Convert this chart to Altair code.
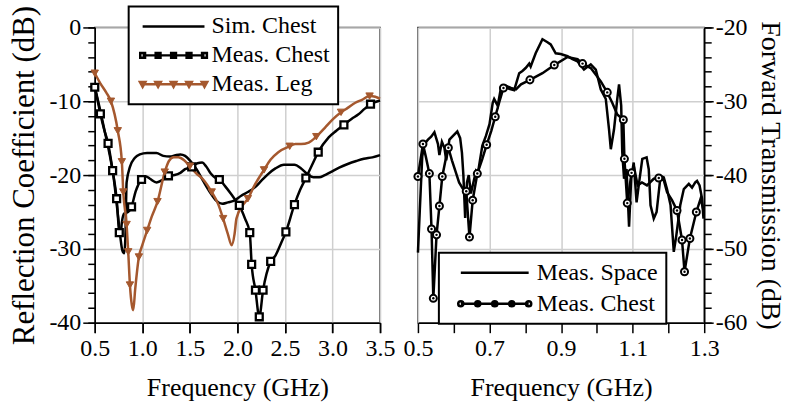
import altair as alt
import pandas as pd

FONT = "Liberation Serif"
BROWN = "#a5582e"

# ---------------- Left panel: reflection coefficient ----------------
sim_f = [0.50, 0.55, 0.60, 0.65, 0.70, 0.74, 0.77, 0.79, 0.81, 0.822, 0.835, 0.87, 0.92, 0.974,
         1.05, 1.149, 1.22, 1.29, 1.35, 1.40, 1.45, 1.50, 1.57, 1.64, 1.71, 1.78, 1.84, 1.90,
         1.96, 2.04, 2.11, 2.18, 2.25, 2.32, 2.40, 2.49, 2.60, 2.67, 2.74, 2.80, 2.86, 2.92,
         2.98, 3.07, 3.16, 3.25, 3.33, 3.42, 3.50]
sim_db = [-8.0, -10.8, -13.8, -16.8, -20.5, -25.0, -28.5, -30.2, -30.6, -28.5, -21.0, -18.9, -17.7,
          -17.2, -17.0, -17.0, -17.4, -17.5, -17.3, -17.2, -17.4, -18.0, -19.2, -20.8, -22.3, -23.5,
          -23.9, -23.7, -23.5, -22.8, -22.3, -21.7, -20.8, -19.9, -19.1, -18.6, -18.6, -19.1, -19.9,
          -20.3, -20.3, -20.0, -19.6, -19.0, -18.5, -18.1, -17.8, -17.6, -17.3]

mc_f = [0.500, 0.530, 0.559, 0.600, 0.640, 0.688, 0.730, 0.758, 0.770, 0.785, 0.810, 0.850, 0.887,
        0.930, 0.992, 1.040, 1.080, 1.150, 1.220, 1.275, 1.340, 1.400, 1.450, 1.520, 1.580, 1.630,
        1.670, 1.720, 1.770, 1.810, 1.870, 1.930, 1.980, 2.020, 2.080, 2.130, 2.150, 2.190, 2.230,
        2.270, 2.350, 2.400, 2.450, 2.510, 2.600, 2.660, 2.720, 2.790, 2.850, 2.960, 3.040, 3.120,
        3.200, 3.270, 3.340, 3.400, 3.500]
mc_db = [-8.1, -9.9, -11.7, -13.9, -15.7, -19.4, -23.2, -27.8, -28.2, -26.4, -25.2, -25.0, -24.3,
         -22.2, -20.6, -20.2, -20.5, -21.0, -20.6, -20.1, -20.0, -19.7, -19.2, -18.9, -18.4, -18.3,
         -18.8, -19.8, -20.4, -20.6, -21.5, -22.5, -23.4, -24.1, -25.9, -27.8, -32.1, -35.6, -39.2,
         -35.6, -31.7, -30.9, -29.5, -27.7, -24.0, -22.0, -20.4, -18.5, -16.9, -14.9, -14.0, -13.2,
         -12.4, -11.8, -11.0, -10.4, -9.9]
mc_mk = [1, 0, 1, 0, 1, 1, 1, 1, 0, 0, 0, 0, 1,
         0, 1, 0, 0, 0, 0, 1, 0, 0, 0, 1, 0, 0,
         0, 0, 0, 1, 0, 0, 0, 1, 0, 1, 1, 1, 1,
         1, 1, 0, 0, 1, 1, 0, 1, 0, 1, 0, 0, 1,
         0, 0, 0, 1, 0]

leg_f = [0.500, 0.560, 0.620, 0.670, 0.742, 0.785, 0.800, 0.835, 0.852, 0.870, 0.890, 0.905, 0.925,
         0.964, 1.000, 1.051, 1.100, 1.160, 1.236, 1.280, 1.330, 1.380, 1.440, 1.500, 1.570, 1.640,
         1.730, 1.800, 1.850, 1.900, 1.940, 1.970, 1.990, 2.050, 2.110, 2.180, 2.280, 2.350, 2.430,
         2.550, 2.610, 2.670, 2.750, 2.830, 2.920, 3.000, 3.090, 3.160, 3.240, 3.310, 3.390, 3.450,
         3.500]
leg_db = [-6.2, -7.6, -8.8, -10.0, -14.0, -18.2, -22.3, -26.7, -30.4, -34.9, -37.6, -38.3, -35.5,
          -31.1, -29.5, -27.5, -25.6, -23.6, -19.6, -18.1, -17.6, -17.6, -18.0, -18.8, -19.8, -20.6,
          -22.3, -24.0, -25.9, -28.0, -29.5, -28.0, -25.9, -24.2, -23.2, -21.4, -19.3, -17.9, -16.9,
          -16.1, -15.8, -15.8, -15.6, -14.8, -13.6, -12.5, -11.5, -10.9, -10.2, -9.8, -9.3, -9.4,
          -9.65]
leg_mk = [1, 0, 0, 1, 1, 1, 1, 1, 1, 1, 0, 0, 0,
          1, 0, 1, 0, 1, 1, 0, 0, 0, 0, 1, 0, 0,
          1, 0, 1, 0, 0, 0, 0, 0, 1, 0, 1, 0, 0,
          1, 0, 0, 0, 1, 0, 0, 1, 0, 0, 0, 1, 0,
          0]

# ---------------- Right panel: forward transmission ----------------
sp_f = [0.500, 0.505, 0.512, 0.518, 0.528, 0.537, 0.546, 0.556, 0.560, 0.567, 0.574, 0.579, 0.588,
        0.600, 0.610, 0.618, 0.623, 0.627, 0.632, 0.637, 0.642, 0.648, 0.655, 0.662, 0.667, 0.680,
        0.690, 0.700, 0.709, 0.713, 0.723, 0.732, 0.741, 0.755, 0.769, 0.783, 0.792, 0.801, 0.811,
        0.815, 0.829, 0.848, 0.862, 0.871, 0.885, 0.899, 0.918, 0.932, 0.946, 0.964, 0.983, 0.997,
        1.011, 1.025, 1.034, 1.039, 1.048, 1.057, 1.062, 1.068, 1.071, 1.076, 1.083, 1.090, 1.096,
        1.103, 1.111, 1.117, 1.127, 1.139, 1.145, 1.150, 1.159, 1.167, 1.178, 1.187, 1.196, 1.206,
        1.215, 1.222, 1.233, 1.243, 1.257, 1.266, 1.275, 1.280, 1.287, 1.294, 1.298]
sp_db = [-50.5, -45.0, -37.5, -35.8, -35.2, -34.8, -34.2, -35.8, -37.3, -35.5, -36.3, -38.0, -35.2,
         -34.6, -34.1, -35.0, -37.0, -40.0, -45.8, -41.0, -40.0, -42.5, -41.0, -39.5, -39.9, -36.0,
         -34.7, -33.1, -30.2, -29.7, -30.6, -28.2, -28.0, -28.3, -28.5, -26.2, -25.9, -25.5, -24.9,
         -25.3, -23.5, -21.6, -22.0, -22.3, -23.5, -23.6, -23.9, -24.3, -24.6, -25.7, -25.0, -25.7,
         -28.4, -29.7, -33.8, -36.5, -33.8, -29.7, -27.7, -30.6, -36.9, -40.5, -39.2, -47.0, -40.5,
         -38.3, -43.7, -41.4, -37.8, -37.6, -39.2, -44.1, -45.9, -45.0, -40.1, -40.3, -41.9, -44.1,
         -50.4, -48.2, -44.1, -41.9, -41.2, -41.7, -41.0, -40.8, -41.4, -43.2, -45.9]

tc_f = [0.500, 0.514, 0.522, 0.532, 0.538, 0.543, 0.552, 0.560, 0.568, 0.577, 0.585, 0.595, 0.605,
        0.615, 0.625, 0.635, 0.644, 0.653, 0.666, 0.680, 0.692, 0.705, 0.716, 0.728, 0.739, 0.746,
        0.760, 0.774, 0.788, 0.813, 0.848, 0.881, 0.918, 0.946, 0.960, 0.983, 1.011, 1.029, 1.043,
        1.057, 1.074, 1.077, 1.085, 1.097, 1.105, 1.114, 1.126, 1.140, 1.159, 1.173, 1.187, 1.196,
        1.210, 1.224, 1.238, 1.245, 1.260, 1.278, 1.290, 1.297]
tc_db = [-40.2, -35.8, -37.5, -39.8, -47.3, -56.7, -48.1, -44.2, -40.2, -38.0, -36.3, -38.0, -39.5,
         -41.0, -41.8, -42.2, -48.4, -43.4, -39.8, -37.8, -35.9, -34.0, -32.1, -30.0, -28.2, -27.9,
         -28.2, -28.4, -27.7, -27.1, -26.2, -25.1, -24.0, -24.3, -24.9, -25.5, -27.3, -28.8, -30.2,
         -31.8, -32.5, -37.8, -43.8, -39.7, -39.2, -41.4, -41.0, -41.4, -40.5, -40.4, -40.7, -42.3,
         -43.4, -44.8, -48.8, -53.1, -48.6, -45.0, -43.2, -44.6]
tc_mk = [1, 1, 0, 1, 1, 1, 1, 1, 1, 0, 1, 0, 0,
         0, 0, 1, 1, 1, 1, 0, 1, 0, 1, 0, 1, 0,
         0, 0, 0, 1, 0, 1, 0, 0, 1, 0, 0, 1, 0,
         0, 1, 1, 1, 1, 0, 0, 0, 0, 0, 1, 0, 0,
         0, 1, 1, 1, 1, 1, 0, 0]

left_series = ["Sim. Chest", "Meas. Chest", "Meas. Leg"]
right_series = ["Meas. Space", "Meas. Chest"]


def frame(f, db, name, mk=None):
    return pd.DataFrame({"f": f, "db": db, "series": name, "grp": name,
                         "mk": mk if mk is not None else [0] * len(f)})


df_left = pd.concat([frame(sim_f, sim_db, "Sim. Chest"),
                     frame(mc_f, mc_db, "Meas. Chest", mc_mk),
                     frame(leg_f, leg_db, "Meas. Leg", leg_mk)], ignore_index=True)
df_right = pd.concat([frame(sp_f, sp_db, "Meas. Space"),
                      frame(tc_f, tc_db, "Meas. Chest", tc_mk)], ignore_index=True)


# ---- legend symbol paths (line with markers) ----
def line_path(h):
    return f"M{-h},0H{h}"


def squares(step, r=0.24):
    return "".join(f"M{c - r:.3f},{-r}h{2 * r}v{2 * r}h{-2 * r}Z"
                   for c in [-2 * step, -step, 0, step, 2 * step])


def tris(step):
    return "".join(f"M{c - 0.27:.3f},-0.22L{c + 0.27:.3f},-0.22L{c:.3f},0.26Z"
                   for c in [-2 * step, -step, 0, step, 2 * step])


def circles(step, r=0.26):
    return "".join(f"M{c - r:.3f},0a{r},{r} 0 1,0 {2 * r},0a{r},{r} 0 1,0 {-2 * r},0"
                   for c in [-2 * step, -step, 0, step, 2 * step])


LH, LS = 3.1, 1.55
RH, RS = 3.4, 1.7
left_shapes = [line_path(LH), line_path(LH) + squares(LS), line_path(LH) + tris(LS)]
right_shapes = [line_path(RH), line_path(RH) + circles(RS)]

W, H = 286, 296

# ---------------- Left panel ----------------
xs_l = alt.Scale(domain=[0.5, 3.5], nice=False, zero=False)
ys_l = alt.Scale(domain=[-40, 0], nice=False, zero=False)

x_major_l = alt.Axis(values=[0.5, 1.0, 1.5, 2.0, 2.5, 3.0, 3.5], format=".1f", grid=True,
                     tickSize=10, labelPadding=4, labelFlush=False, title="Frequency (GHz)",
                     titleFontSize=26, titlePadding=14, labelFontSize=24, orient="bottom")
y_major_l = alt.Axis(values=[-40, -30, -20, -10, 0], labelExpr="'' + datum.value", grid=True,
                     tickSize=12, labelPadding=2, labelFlush=False,
                     title="Reflection Coefficient (dB)",
                     titleFontSize=31, titlePadding=8, labelFontSize=24, orient="left")
x_minor_l = alt.Axis(values=[0.5, 1.0, 1.5, 2.0, 2.5, 3.0, 3.5], labels=False, grid=False,
                     domain=False, tickSize=10, title=None, orient="bottom")
y_minor_l = alt.Axis(values=list(range(-40, 1, 2)), labels=False, grid=False, domain=False,
                     tickSize=7, title=None, orient="left")

base_l = alt.Chart(df_left)
sim_line = base_l.transform_filter("datum.series == 'Sim. Chest'").mark_line(
    strokeWidth=2.5, interpolate="monotone", color="black"
).encode(
    x=alt.X("f:Q", scale=xs_l, axis=x_major_l),
    y=alt.Y("db:Q", scale=ys_l, axis=y_major_l),
)
mc_line = base_l.transform_filter("datum.series == 'Meas. Chest'").mark_line(
    strokeWidth=2.5, interpolate="monotone", color="black"
).encode(x=alt.X("f:Q", scale=xs_l, axis=None), y=alt.Y("db:Q", scale=ys_l, axis=None))
leg_line = base_l.transform_filter("datum.series == 'Meas. Leg'").mark_line(
    strokeWidth=2.5, interpolate="monotone", color=BROWN
).encode(x=alt.X("f:Q", scale=xs_l, axis=None), y=alt.Y("db:Q", scale=ys_l, axis=None))
sq_l = base_l.transform_filter("datum.mk == 1 && datum.series == 'Meas. Chest'").mark_point(
    shape="square", filled=True, fill="white", stroke="black", strokeWidth=2.3, size=48, opacity=1
).encode(x=alt.X("f:Q", scale=xs_l, axis=None), y=alt.Y("db:Q", scale=ys_l, axis=None))
tri_l = base_l.transform_filter("datum.mk == 1 && datum.series == 'Meas. Leg'").mark_point(
    shape="triangle-down", filled=True, fill=BROWN, stroke=BROWN, strokeWidth=1, size=55, opacity=1
).encode(x=alt.X("f:Q", scale=xs_l, axis=None), y=alt.Y("db:Q", scale=ys_l, axis=None))

leg_l = alt.Legend(title=None, orient="none", legendX=34, legendY=-21, labelFont=FONT,
                   labelFontSize=24, labelColor="black", symbolSize=400, symbolStrokeWidth=2.5,
                   symbolOffset=25, labelOffset=26, rowPadding=5, padding=8,
                   strokeColor="black", fillColor="white")
legend_layer_l = base_l.transform_filter("false").mark_point(
    filled=True, size=400, opacity=1, strokeWidth=2.5
).encode(
    x=alt.X("f:Q", scale=xs_l, axis=x_minor_l),
    y=alt.Y("db:Q", scale=ys_l, axis=y_minor_l),
    shape=alt.Shape("series:N", scale=alt.Scale(domain=left_series, range=left_shapes), legend=leg_l),
    stroke=alt.Stroke("series:N", scale=alt.Scale(domain=left_series,
                                                  range=["black", "black", BROWN]), legend=leg_l),
    fill=alt.Fill("series:N", scale=alt.Scale(domain=left_series,
                                              range=["transparent", "white", BROWN]), legend=leg_l),
)

left = alt.layer(sim_line, mc_line, leg_line, sq_l, tri_l, legend_layer_l).resolve_axis(
    x="independent", y="independent").properties(width=W, height=H)

# ---------------- Right panel ----------------
xs_r = alt.Scale(domain=[0.5, 1.3], nice=False, zero=False)
ys_r = alt.Scale(domain=[-60, -20], nice=False, zero=False)

x_major_r = alt.Axis(values=[0.5, 0.7, 0.9, 1.1, 1.3], format=".1f", grid=True, tickSize=10,
                     labelPadding=4, labelFlush=False, title="Frequency (GHz)", titleFontSize=26,
                     titlePadding=14, labelFontSize=24, orient="bottom")
y_major_r = alt.Axis(values=[-60, -50, -40, -30, -20], labelExpr="'' + datum.value", grid=True,
                     tickSize=9, labelPadding=2, labelFlush=False,
                     title="Forward Transmission (dB)",
                     titleFontSize=28, titlePadding=8, labelFontSize=24, orient="right")
x_minor_r = alt.Axis(values=[0.6, 0.8, 1.0, 1.2], labels=False, grid=False, domain=False,
                     tickSize=10, title=None, orient="bottom")
y_minor_r = alt.Axis(values=list(range(-60, -19, 2)), labels=False, grid=False, domain=False,
                     tickSize=7, title=None, orient="right")

base_r = alt.Chart(df_right)
lines_r = base_r.mark_line(strokeWidth=2.5, color="black").encode(
    x=alt.X("f:Q", scale=xs_r, axis=x_major_r),
    y=alt.Y("db:Q", scale=ys_r, axis=y_major_r),
    detail="grp:N",
)
circ_r = base_r.transform_filter("datum.mk == 1").mark_point(
    shape="circle", filled=True, fill="white", stroke="black", strokeWidth=2, size=50, opacity=1
).encode(x=alt.X("f:Q", scale=xs_r, axis=None), y=alt.Y("db:Q", scale=ys_r, axis=None))
dot_r = base_r.transform_filter("datum.mk == 1").mark_point(
    shape="circle", filled=True, color="black", size=6, opacity=1
).encode(x=alt.X("f:Q", scale=xs_r, axis=None), y=alt.Y("db:Q", scale=ys_r, axis=None))

leg_r = alt.Legend(title=None, orient="none", legendX=21, legendY=226, labelFont=FONT,
                   labelFontSize=24, labelColor="black", symbolSize=400, symbolStrokeWidth=2.5,
                   symbolOffset=36, labelOffset=30, rowPadding=7, padding=8,
                   strokeColor="black", fillColor="white")
legend_layer_r = base_r.transform_filter("false").mark_point(
    filled=True, size=400, opacity=1, strokeWidth=2.5
).encode(
    x=alt.X("f:Q", scale=xs_r, axis=x_minor_r),
    y=alt.Y("db:Q", scale=ys_r, axis=y_minor_r),
    shape=alt.Shape("series:N", scale=alt.Scale(domain=right_series, range=right_shapes), legend=leg_r),
    stroke=alt.Stroke("series:N", scale=alt.Scale(domain=right_series,
                                                  range=["black", "black"]), legend=leg_r),
    fill=alt.Fill("series:N", scale=alt.Scale(domain=right_series,
                                              range=["transparent", "white"]), legend=leg_r),
)

right = alt.layer(lines_r, circ_r, dot_r, legend_layer_r).resolve_axis(
    x="independent", y="independent").properties(width=W + 1, height=H)

chart = alt.hconcat(left, right, spacing=38, bounds="flush").resolve_scale(
    shape="independent", stroke="independent", fill="independent"
).resolve_legend(
    shape="independent", stroke="independent", fill="independent"
).properties(
    padding={"left": 8, "top": 4, "right": 2, "bottom": 2}
).configure_view(
    stroke="#333333", strokeWidth=1.5
).configure_axis(
    labelFont=FONT, titleFont=FONT, labelColor="black", titleColor="black",
    titleFontWeight="normal", gridColor="#cfcfcf", gridWidth=1.5, domainColor="black",
    domainWidth=1.5, tickColor="black", tickWidth=1.5
).configure_legend(
    strokeWidth=2
)

chart.save("out.html", embed_options={"renderer": "svg", "actions": False})
